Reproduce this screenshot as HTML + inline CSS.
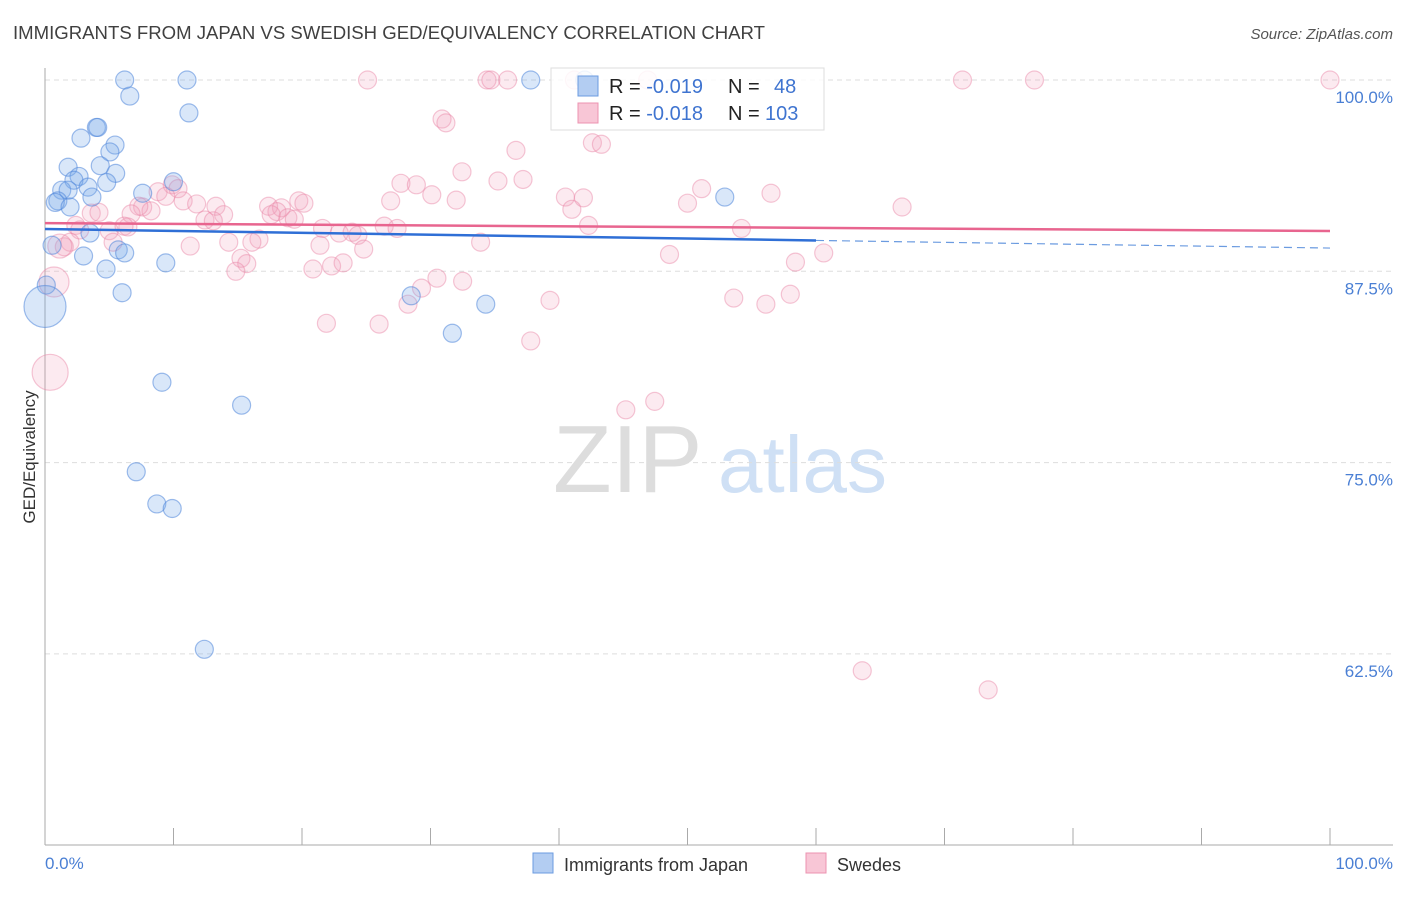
<!DOCTYPE html>
<html><head><meta charset="utf-8"><style>
body{margin:0;background:#fff;font-family:"Liberation Sans",sans-serif;}
svg text{font-family:"Liberation Sans",sans-serif;}
</style></head><body>
<svg id="chart" width="1406" height="892" viewBox="0 0 1406 892">
<text x="13" y="39" font-size="18" fill="#404040" textLength="752" lengthAdjust="spacingAndGlyphs">IMMIGRANTS FROM JAPAN VS SWEDISH GED/EQUIVALENCY CORRELATION CHART</text>
<text x="1393" y="39" font-size="15" fill="#555" font-style="italic" text-anchor="end">Source: ZipAtlas.com</text>
<g>
<text x="553" y="492" font-size="96" fill="#ddd" font-family="Liberation Serif">ZIP</text>
<text x="718" y="492" font-size="80" fill="#cfe0f5">atlas</text>
</g>
<g id="grid"></g>
<g id="axes"></g>
<g id="pts"></g>
<g id="lines"></g>
<text transform="translate(35,457) rotate(-90)" font-size="17" fill="#333" text-anchor="middle">GED/Equivalency</text>
<text x="45" y="869" font-size="17" fill="#4a7fd4">0.0%</text>
<text x="1393" y="869" font-size="17" fill="#4a7fd4" text-anchor="end">100.0%</text>
<g>
<rect x="551" y="68" width="273" height="62" fill="#fff" fill-opacity="0.85" stroke="#ddd"/>
<rect x="578" y="76" width="20" height="20" fill="#b3cdf2" stroke="#6b9be0"/>
<rect x="578" y="103" width="20" height="20" fill="#f8c6d6" stroke="#ec93b0"/>
<text x="609" y="93" font-size="20" fill="#222">R = <tspan fill="#3f74d0">-0.019</tspan><tspan x="728">N =</tspan><tspan x="774" fill="#3f74d0">48</tspan></text>
<text x="609" y="120" font-size="20" fill="#222">R = <tspan fill="#3f74d0">-0.018</tspan><tspan x="728">N =</tspan><tspan x="765" fill="#3f74d0">103</tspan></text>
</g>
<g>
<rect x="533" y="853" width="20" height="20" fill="#b3cdf2" stroke="#6b9be0"/>
<text x="564" y="871" font-size="18" fill="#333">Immigrants from Japan</text>
<rect x="806" y="853" width="20" height="20" fill="#f8c6d6" stroke="#ec93b0"/>
<text x="837" y="871" font-size="18" fill="#333">Swedes</text>
</g>
</svg>
<script>
const yTicks=[100,87.5,75,62.5];
const yTickLabels=["100.0%","87.5%","75.0%","62.5%"];
const xTicks=[0,10,20,30,40,50,60,70,80,90,100];
const japanX=[6.2,11.05,37.8,6.6,11.2,4.0,2.8,5.45,5.05,1.8,4.3,2.65,5.5,2.25,4.8,10.0,1.3,1.8,3.35,7.6,3.65,1.0,0.8,1.95,52.9,3.5,0.55,5.7,6.2,3.0,9.4,4.75,0.1,6.0,28.5,34.3,0,31.7,9.1,15.3,7.1,8.7,9.9,12.4,4.1,42.0];
const japanY=[100,100,100,98.95,97.85,96.9,96.2,95.75,95.3,94.3,94.4,93.7,93.9,93.45,93.3,93.35,92.8,92.8,93.0,92.6,92.35,92.1,92.0,91.7,92.35,90.0,89.2,88.9,88.7,88.5,88.05,87.65,86.6,86.1,85.9,85.35,85.2,83.45,80.25,78.75,74.4,72.3,72.0,62.8,96.9,100];
const japanR=[9,9,9,9,9,9,9,9,9,9,9,9,9,9,9,9,9,9,9,9,9,9,9,9,9,9,9,9,9,9,9,9,9,9,9,9,21,9,9,9,9,9,9,9,9,9];
const swedesX=[25.1,34.4,34.7,36.0,41.2,46.9,71.4,77.0,100,30.9,31.2,36.65,42.6,43.3,32.45,35.25,37.2,27.7,28.9,30.1,26.9,32.0,40.5,41.9,41.0,51.1,50.0,56.5,66.7,9.9,10.35,8.8,9.4,7.6,8.25,7.3,10.75,11.8,13.3,13.9,12.45,13.1,17.4,18.4,18.05,19.75,20.15,18.9,19.4,17.6,3.6,4.2,6.7,6.45,5.0,2.4,2.7,1.95,1.5,1.15,5.3,6.15,14.3,16.65,16.1,11.3,15.25,15.7,14.85,21.6,22.9,23.9,24.35,26.4,27.4,21.4,24.8,20.85,22.3,23.2,33.9,42.3,54.2,48.6,58.4,60.6,30.5,32.5,29.3,28.25,39.3,53.6,56.1,58.0,21.9,26.0,37.8,45.2,47.45,63.6,73.4,0.7,0.4];
const swedesY=[100,100,100,100,100,100,100,100,100,97.45,97.2,95.4,95.9,95.8,94.0,93.4,93.5,93.25,93.15,92.5,92.1,92.15,92.35,92.3,91.55,92.9,91.95,92.6,91.7,93.15,92.9,92.7,92.4,91.7,91.45,91.75,92.1,91.9,91.75,91.2,90.85,90.8,91.75,91.65,91.4,92.1,91.95,91.0,90.9,91.2,91.3,91.35,91.25,90.4,90.15,90.5,90.2,89.4,89.1,89.15,89.4,90.45,89.4,89.6,89.4,89.15,88.35,88.0,87.5,90.3,90.0,90.05,89.85,90.45,90.3,89.2,88.95,87.65,87.85,88.05,89.4,90.5,90.3,88.6,88.1,88.7,87.05,86.85,86.4,85.35,85.6,85.75,85.35,86.0,84.1,84.05,82.95,78.45,79.0,61.4,60.15,86.8,80.9];
const japanTrend=[90.26,89.02];
const swedesTrend=[90.65,90.13];
const NS='http://www.w3.org/2000/svg';
const X0=45,X1=1330,Y100=80,PXPER=191.3/12.5;
const sx=v=>X0+(X1-X0)*v/100;
const sy=v=>Y100+(100-v)*PXPER;
function mk(tag,attrs,parent){const e=document.createElementNS(NS,tag);for(const k in attrs)e.setAttribute(k,attrs[k]);document.getElementById(parent).appendChild(e);return e;}
yTicks.forEach((t,i)=>{
 const g=mk('line',{x1:X0,x2:1393,y1:sy(t),y2:sy(t),stroke:'#ddd','stroke-dasharray':'5,4'},'grid');
 
 
 const l=mk('text',{x:1393,y:sy(t)+23,'font-size':17,fill:'#4a7fd4','text-anchor':'end'},'grid');
 l.textContent=yTickLabels[i];
 
 
});
const ya=mk('line',{x1:X0,x2:X0,y1:68,y2:845,stroke:'#aaa'},'axes');


const xa=mk('line',{x1:X0,x2:1393,y1:845,y2:845,stroke:'#aaa'},'axes');


xTicks.forEach(t=>{
 const k=mk('line',{x1:sx(t),x2:sx(t),y1:828,y2:845,stroke:'#aaa'},'axes');
 
 
});
swedesX.forEach((v,i)=>{
 const r=i>=swedesX.length-2?(i==swedesX.length-1?18:15):(i==59?12:9);
 const c=mk('circle',{cx:sx(v),cy:sy(swedesY[i]),r:r,fill:'rgba(242,160,188,0.22)',stroke:'rgba(232,130,165,0.45)','stroke-width':1.2},'pts');
 
 
});
japanX.forEach((v,i)=>{
 const c=mk('circle',{cx:sx(v),cy:sy(japanY[i]),r:japanR[i],fill:'rgba(120,168,232,0.28)',stroke:'rgba(80,135,218,0.55)','stroke-width':1.2},'pts');
 
 
});
const jy=p=>japanTrend[0]+(japanTrend[1]-japanTrend[0])*p/100;
const l1=mk('line',{x1:sx(0),y1:sy(jy(0)),x2:sx(60),y2:sy(jy(60)),stroke:'#2f6fd6','stroke-width':2.5},'lines');


const l2=mk('line',{x1:sx(60),y1:sy(jy(60)),x2:sx(100),y2:sy(jy(100)),stroke:'#6b9be0','stroke-width':1.2,'stroke-dasharray':'8,5'},'lines');


const l3=mk('line',{x1:sx(0),y1:sy(swedesTrend[0]),x2:sx(100),y2:sy(swedesTrend[1]),stroke:'#e8658f','stroke-width':2.5},'lines');


</script>
</body></html>
